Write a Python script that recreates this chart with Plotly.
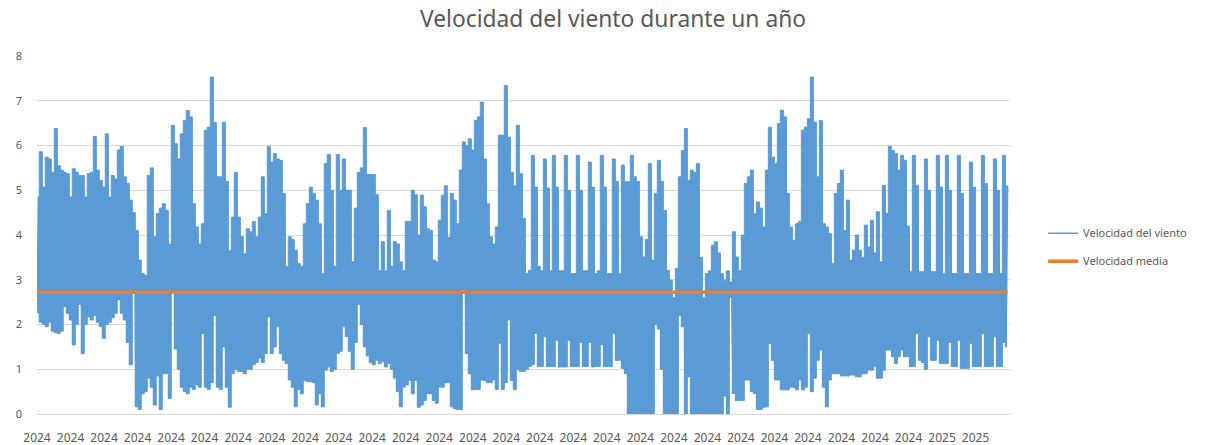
import plotly.graph_objects as go

# Máximos y mínimos diarios de la velocidad del viento (m/s), 324 días
maximos_diarios = [
    4.85, 5.86, 5.07, 5.74, 5.7, 5.4, 6.38, 5.55, 5.45, 5.4,
    5.37, 4.85, 5.48, 5.4, 5.33, 5.33, 4.85, 5.37, 5.4, 6.2,
    5.45, 5.22, 5.07, 6.26, 4.85, 5.33, 5.25, 5.9, 5.98, 5.3,
    5.15, 4.78, 4.5, 4.1, 3.44, 3.14, 3.1, 5.33, 5.5, 3.96,
    4.48, 4.6, 4.7, 4.55, 3.8, 6.45, 6.04, 5.7, 6.26, 6.56,
    6.78, 6.64, 4.7, 4.18, 3.8, 4.25, 6.34, 6.41, 7.53, 6.52,
    5.3, 5.3, 6.52, 5.2, 3.65, 4.4, 5.4, 4.4, 3.96, 3.58,
    4.14, 4.07, 4.3, 3.96, 4.4, 5.3, 4.48, 5.98, 5.63, 5.82,
    5.7, 5.67, 4.93, 3.29, 3.96, 3.9, 3.66, 3.36, 3.3, 4.25,
    4.7, 5.07, 4.93, 4.78, 4.25, 3.14, 5.6, 5.8, 5.0, 3.3,
    5.8, 5.0, 5.7, 5.0, 5.0, 3.4, 4.6, 5.4, 5.5, 6.4,
    5.35, 5.35, 5.35, 4.9, 3.2, 3.85, 3.2, 4.55, 3.3, 3.85,
    3.8, 3.4, 3.2, 4.3, 4.3, 5.0, 4.9, 4.0, 4.89, 4.63,
    4.14, 4.1, 3.44, 3.4, 4.33, 4.89, 5.1, 3.95, 4.93, 4.78,
    4.25, 5.45, 6.08, 6.0, 6.15, 5.9, 6.56, 6.64, 6.97, 5.7,
    4.7, 3.96, 3.8, 4.18, 6.23, 6.23, 7.34, 6.19, 5.4, 5.1,
    6.45, 5.37, 4.37, 3.14, 3.21, 5.78, 5.07, 3.3, 3.2, 5.7,
    5.05, 3.2, 5.78, 5.07, 3.2, 3.2, 5.78, 5.0, 3.14, 3.14,
    5.78, 5.0, 3.2, 3.2, 5.63, 5.07, 3.14, 3.2, 5.78, 5.07,
    3.14, 3.14, 5.7, 5.2, 3.14, 5.56, 5.19, 5.19, 5.78, 5.3,
    5.2, 3.96, 3.51, 3.9, 5.6, 3.44, 4.93, 5.67, 5.2, 4.55,
    3.21, 2.99, 2.6, 3.25, 5.3, 5.89, 6.38, 5.22, 5.45, 5.4,
    5.6, 3.5, 2.6, 3.14, 3.2, 3.77, 3.85, 3.6, 3.14, 2.99,
    3.2, 2.95, 4.07, 3.51, 3.2, 4.0, 5.15, 5.3, 5.45, 4.48,
    4.74, 4.6, 4.18, 5.45, 6.41, 5.74, 5.6, 6.49, 6.79, 6.64,
    4.93, 4.18, 3.88, 4.25, 4.3, 6.34, 6.41, 6.6, 7.53, 6.52,
    5.3, 6.56, 4.25, 4.18, 4.03, 3.36, 4.93, 5.15, 5.45, 4.1,
    4.78, 3.44, 3.66, 4.0, 3.66, 3.5, 4.22, 3.73, 4.33, 3.6,
    4.52, 3.4, 5.11, 4.48, 5.98, 5.89, 5.82, 5.45, 5.78, 5.67,
    4.2, 3.18, 5.78, 5.11, 3.18, 3.18, 5.7, 5.0, 3.18, 3.18,
    5.78, 5.07, 3.14, 5.78, 5.0, 3.14, 3.14, 5.78, 4.93, 3.14,
    3.14, 5.63, 5.07, 3.14, 3.14, 5.78, 5.15, 3.14, 3.14, 5.7,
    5.0, 3.14, 5.78, 5.1,
]

minimos_diarios = [
    2.25, 2.05, 2.0, 1.95, 2.05, 1.85, 1.82, 1.8, 1.85, 2.4,
    2.25, 2.1, 1.54, 2.0, 2.45, 1.35, 2.0, 2.17, 2.1, 2.2,
    2.05, 1.95, 1.69, 2.0, 2.05, 2.15, 2.25, 2.55, 2.25, 2.1,
    1.6, 1.1, 2.7, 0.16, 0.1, 0.45, 0.5, 0.8, 0.6, 0.2,
    0.85, 0.1, 0.9, 0.9, 0.35, 2.7, 1.45, 1.0, 0.6, 0.5,
    0.45, 0.6, 0.55, 0.65, 0.6, 1.8, 0.6, 0.55, 0.7, 2.2,
    0.6, 0.55, 1.5, 0.6, 0.15, 0.9, 1.0, 0.95, 0.95, 0.9,
    1.0, 1.0, 1.1, 1.15, 1.25, 1.15, 1.35, 2.17, 1.35, 1.5,
    1.95, 1.35, 1.2, 1.13, 0.76, 0.6, 0.16, 0.55, 0.45, 0.75,
    0.72, 0.72, 0.7, 0.2, 0.45, 0.16, 0.98, 1.05, 0.95, 1.0,
    1.35, 1.4, 1.95, 1.73, 1.4, 1.0, 1.6, 2.45, 2.0, 1.5,
    1.3, 1.15, 1.1, 1.2, 1.13, 1.17, 1.05, 1.13, 1.0, 0.8,
    0.5, 0.16, 0.6, 0.65, 0.75, 0.45, 0.75, 0.15, 0.2, 0.3,
    0.46, 0.45, 0.3, 0.24, 0.6, 0.6, 0.7, 0.7, 0.16, 0.12,
    0.1, 0.1, 2.77, 1.35, 0.9, 0.54, 0.55, 0.55, 0.76, 0.75,
    0.7, 0.7, 0.76, 0.55, 1.58, 0.55, 0.7, 2.1, 0.75, 0.55,
    0.99, 0.95, 0.95, 1.0, 1.06, 1.1, 1.8, 1.06, 1.06, 1.73,
    1.06, 1.06, 1.06, 1.65, 1.05, 1.05, 1.05, 1.65, 1.06, 1.06,
    1.06, 1.6, 1.06, 1.06, 1.6, 1.05, 1.06, 1.06, 1.55, 1.06,
    1.06, 1.06, 1.8, 1.2, 1.2, 1.02, 0.9, 0.0, 0.0, 0.0,
    0.0, 0.0, 0.0, 0.0, 0.0, 0.0, 2.0, 1.9, 1.0, 0.0,
    0.0, 0.0, 0.0, 0.0, 2.2, 1.95, 0.0, 0.83, 0.0, 0.0,
    0.0, 0.0, 0.0, 0.0, 0.0, 0.0, 0.0, 0.0, 0.0, 0.4,
    0.0, 2.6, 0.46, 0.3, 0.3, 0.3, 0.76, 0.76, 0.5, 0.46,
    0.1, 0.1, 0.15, 0.16, 1.58, 1.2, 0.76, 0.76, 0.54, 0.54,
    0.54, 0.6, 0.6, 0.54, 0.76, 0.54, 0.6, 1.8, 0.5, 0.8,
    1.2, 1.43, 0.6, 0.16, 0.76, 0.9, 0.9, 0.9, 0.85, 0.85,
    0.85, 0.87, 0.87, 0.83, 0.83, 0.9, 0.9, 0.98, 0.98, 1.06,
    0.8, 0.8, 0.98, 1.43, 1.43, 1.28, 1.13, 1.28, 1.43, 1.28,
    1.28, 1.06, 1.06, 1.8, 1.2, 1.15, 1.0, 1.73, 1.2, 1.2,
    1.65, 1.13, 1.13, 1.13, 1.6, 1.06, 1.06, 1.65, 1.02, 1.02,
    1.02, 1.58, 1.06, 1.06, 1.06, 1.8, 1.06, 1.06, 1.06, 1.73,
    1.06, 1.06, 1.6, 1.5,
]

# Velocidad media del periodo (m/s)
velocidad_media = 2.72

# Etiquetas del eje horizontal
etiquetas_x = ["2024"] * 27 + ["2025"] * 2

AZUL = "#5B9BD5"
NARANJA = "#ED7D31"
GRIS = "#595959"
FUENTE = "Noto Sans"

n_dias = len(maximos_diarios)
dias = [d + 0.25 for d in range(n_dias)]

# Serie continua: cada día baja a su mínimo y sube a su máximo
serie = []
for bajo, alto in zip(minimos_diarios, maximos_diarios):
    serie.extend([bajo, alto])
x = [i / 2 for i in range(len(serie))]
media = [velocidad_media] * len(serie)

tick_pos = [i * n_dias / len(etiquetas_x) for i in range(len(etiquetas_x))]

fig = go.Figure()
# Banda diaria entre mínimo y máximo
fig.add_trace(go.Scatter(
    x=dias, y=minimos_diarios, mode="lines", showlegend=False,
    line=dict(color=AZUL, width=1, shape="hvh"), hoverinfo="skip",
))
fig.add_trace(go.Scatter(
    x=dias, y=maximos_diarios, mode="lines", showlegend=False,
    line=dict(color=AZUL, width=1, shape="hvh"),
    fill="tonexty", fillcolor=AZUL, hoverinfo="skip",
))
fig.add_trace(go.Scatter(
    x=x, y=serie, mode="lines", name="Velocidad del viento",
    legendgroup="viento",
    line=dict(color=AZUL, width=1.5, simplify=False),
))
fig.add_trace(go.Scatter(
    x=x, y=media, mode="lines", name="Velocidad media",
    legendgroup="media",
    line=dict(color=NARANJA, width=3.5),
))

fig.update_layout(
    width=1213, height=445,
    margin=dict(l=37, r=203, t=56, b=31),
    paper_bgcolor="white", plot_bgcolor="white",
    font=dict(family=FUENTE, color=GRIS),
    title=dict(
        text="Velocidad del viento durante un año",
        font=dict(family=FUENTE, size=22.8, color=GRIS),
        x=613 / 1213, xanchor="center", xref="container",
        y=1 - 19 / 445, yanchor="middle", yref="container",
    ),
    xaxis=dict(
        range=[0, n_dias + 0.3], automargin=False,
        tickmode="array", tickvals=tick_pos, ticktext=etiquetas_x,
        tickangle=0, showgrid=False, zeroline=False,
        showline=True, linecolor="#D9D9D9", linewidth=1,
        ticks="", ticklabelstandoff=13,
        tickfont=dict(family=FUENTE, size=12, color=GRIS),
    ),
    yaxis=dict(
        range=[0, 8], dtick=1, showgrid=True, automargin=False,
        gridcolor="#D9D9D9", gridwidth=1, zeroline=False,
        showline=False, ticks="", ticklabelstandoff=14,
        tickfont=dict(family=FUENTE, size=11, color=GRIS),
    ),
    legend=dict(
        x=1.034, xanchor="left", y=0.466, yanchor="middle",
        font=dict(family=FUENTE, size=11, color=GRIS),
        tracegroupgap=9, bgcolor="rgba(0,0,0,0)",
    ),
    showlegend=True,
)

fig.write_html("out.html")
